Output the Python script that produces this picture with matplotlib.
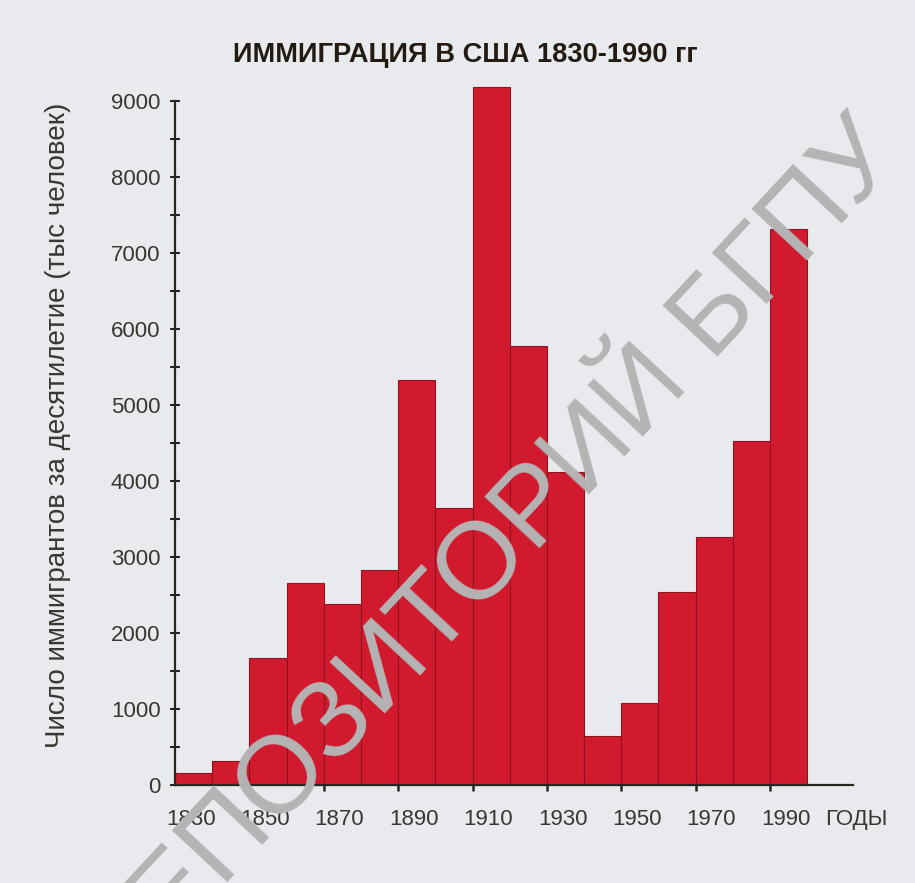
import numpy as np
import matplotlib
matplotlib.use("Agg")
import matplotlib.pyplot as plt
from matplotlib.ticker import MultipleLocator

# Données (milliers d'immigrants par décennie)
decades = [1830, 1840, 1850, 1860, 1870, 1880, 1890, 1900, 1910,
           1920, 1930, 1940, 1950, 1960, 1970, 1980, 1990]
immigrants = [160, 315, 1670, 2660, 2380, 2830, 5330, 3640, 9180,
              5780, 4120, 640, 1080, 2540, 3260, 4530, 7320]
label_years = [1830, 1850, 1870, 1890, 1910, 1930, 1950, 1970, 1990]
tick_years = [1850, 1870, 1890, 1910, 1930, 1950, 1970, 1990]
y_ticks = [0, 1000, 2000, 3000, 4000, 5000, 6000, 7000, 8000, 9000]

plt.rcParams['font.family'] = ['Liberation Sans', 'DejaVu Sans']

bg = '#e8eaed'
txt = '#3a3631'
rouge = '#d21a2f'

fig = plt.figure(figsize=(9.15, 8.83), dpi=100, facecolor=bg)
ax = fig.add_axes([175/915, 1-785/883, 678/915, 707/883])
ax.set_facecolor(bg)

ax.bar(decades, immigrants, width=10, align='edge', color=rouge,
       edgecolor='#8e1421', linewidth=0.8, clip_on=False, zorder=2)

ax.set_xlim(1830, 2012.3)
ax.set_ylim(0, 9300)

# axes
for s in ['top', 'right']:
    ax.spines[s].set_visible(False)
ax.spines['left'].set_bounds(0, 9000)
ax.spines['left'].set_linewidth(1.6)
ax.spines['bottom'].set_linewidth(1.6)
ax.spines['left'].set_color('#2a2520')
ax.spines['bottom'].set_color('#2a2520')
ax.spines['left'].set_zorder(3)
ax.spines['bottom'].set_zorder(3)

ax.set_yticks(y_ticks)
ax.yaxis.set_minor_locator(MultipleLocator(500))
ax.tick_params(axis='y', which='both', direction='inout', length=7, width=1.5,
               color='#2a2520', labelsize=16, labelcolor=txt, pad=7)

ax.set_xticks([y + 4.2 for y in label_years], [str(y) for y in label_years])
ax.set_xticks(tick_years, minor=True)
ax.tick_params(axis='x', which='major', length=0, labelsize=16, labelcolor=txt, pad=17)
ax.tick_params(axis='x', which='minor', direction='inout', length=9, width=1.8,
               color='#2a2520')

ax.annotate('ГОДЫ', xy=(2013.3, 0), xycoords=('data', 'axes fraction'),
            xytext=(0, -17), textcoords='offset points', ha='center', va='top',
            fontsize=16, color=txt, annotation_clip=False)

fig.text(58/915, 1-425/883, 'Число иммигрантов за десятилетие (тыс человек)',
         rotation=90, ha='center', va='center', fontsize=20, color=txt)

fig.text(465/915, 1-62/883, 'ИММИГРАЦИЯ В США 1830-1990 гг', ha='center',
         va='baseline', fontsize=19.6, fontweight='bold', color='#231a12')

# filigrane
fig.text(492/915, 1-558/883, 'РЕПОЗИТОРИЙ БГПУ', rotation=47,
         ha='center', va='center', rotation_mode='anchor', fontsize=79,
         color='#b4b4b4', zorder=10)

fig.savefig('out.png', dpi=100, facecolor=bg)
